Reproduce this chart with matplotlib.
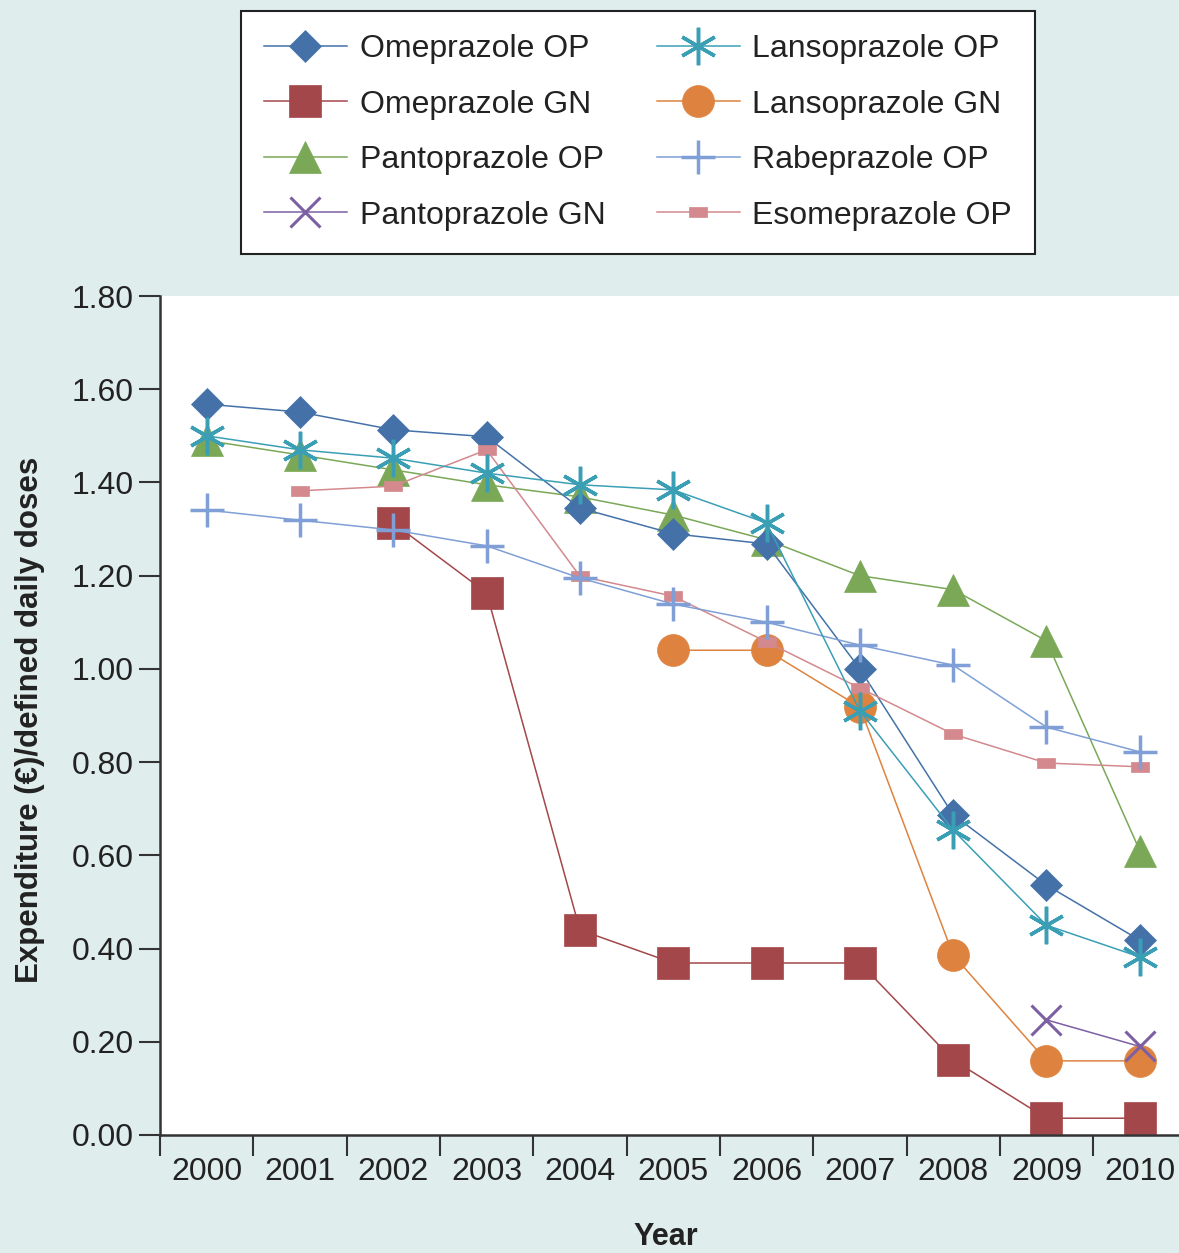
import numpy as np
import matplotlib
matplotlib.use('Agg')
import matplotlib.pyplot as plt
from matplotlib import rcParams

rcParams['font.family'] = ['Liberation Sans', 'DejaVu Sans']

nan = np.nan
years = ['2000', '2001', '2002', '2003', '2004', '2005', '2006', '2007', '2008', '2009', '2010']

omeprazole_op = [1.568, 1.551, 1.513, 1.498, 1.345, 1.290, 1.268, 1.000, 0.687, 0.536, 0.418]
omeprazole_gn = [nan, nan, 1.313, 1.163, 0.440, 0.369, 0.369, 0.369, 0.161, 0.036, 0.036]
pantoprazole_op = [1.490, 1.459, 1.427, 1.395, 1.369, 1.330, 1.277, 1.200, 1.170, 1.060, 0.610]
pantoprazole_gn = [nan, nan, nan, nan, nan, nan, nan, nan, nan, 0.247, 0.190]
lansoprazole_op = [1.500, 1.470, 1.452, 1.420, 1.395, 1.384, 1.313, 0.910, 0.654, 0.450, 0.382]
lansoprazole_gn = [nan, nan, nan, nan, nan, 1.040, 1.040, 0.918, 0.386, 0.159, 0.159]
rabeprazole_op = [1.341, 1.319, 1.298, 1.264, 1.195, 1.139, 1.100, 1.051, 1.008, 0.875, 0.822]
esomeprazole_op = [nan, 1.382, 1.392, 1.470, 1.199, 1.156, 1.058, 0.959, 0.860, 0.798, 0.790]

bg = '#dfeeec'
flat_rect = [(-1, -0.55), (1, -0.55), (1, 0.55), (-1, 0.55), (-1, -0.55)]

fig = plt.figure(figsize=(11.79, 12.53), dpi=100, facecolor=bg)
ax = fig.add_axes([160/1179, 1 - 1135/1253, 1 - 160/1179, (1135 - 296)/1253])
ax.set_facecolor('white')

x = np.arange(len(years))
lw = 1.1
# (label, data, color, marker, markersize, markeredgewidth, zorder)
series = [
    ('Omeprazole OP', omeprazole_op, '#4472a8', 'D', 16, 0.5, 4),
    ('Omeprazole GN', omeprazole_gn, '#a3474a', 's', 23, 0.5, 2),
    ('Pantoprazole OP', pantoprazole_op, '#7aa857', '^', 23, 0.5, 3),
    ('Pantoprazole GN', pantoprazole_gn, '#7d5fa3', 'x', 22, 2.2, 7),
    ('Lansoprazole OP', lansoprazole_op, '#3a9fb5', (6, 2, 0), 27, 2.5, 8),
    ('Lansoprazole GN', lansoprazole_gn, '#de833f', 'o', 23, 0.5, 5),
    ('Rabeprazole OP', rabeprazole_op, '#7f9fd6', '+', 24, 2.5, 6),
    ('Esomeprazole OP', esomeprazole_op, '#d3898d', flat_rect, 13, 0.5, 5),
]
handles = []
for label, data, color, marker, ms, mew, z in series:
    h, = ax.plot(x, data, color=color, lw=lw, marker=marker, markersize=ms,
                 markeredgewidth=mew, markeredgecolor=color, markerfacecolor=color,
                 label=label, zorder=z, clip_on=False)
    handles.append(h)

ax.set_xlim(-0.5, 10.42)
ax.set_ylim(0, 1.8)
ax.set_yticks(np.arange(0, 1.81, 0.2))
ax.set_yticklabels(['%.2f' % v for v in np.arange(0, 1.81, 0.2)])
ax.set_xticks(np.arange(-0.5, 10.5, 1.0))
ax.set_xticklabels([])
ax.set_xticks(x, minor=True)
ax.set_xticklabels(years, minor=True)
ax.tick_params(axis='x', which='major', length=15, width=1.5, color='#333333')
ax.tick_params(axis='x', which='minor', length=0, pad=16, labelsize=23, labelcolor='#222222')
ax.tick_params(axis='y', length=15, width=1.5, color='#333333', pad=4, labelsize=23, labelcolor='#222222')
for s in ['top', 'right']:
    ax.spines[s].set_visible(False)
for s in ['left', 'bottom']:
    ax.spines[s].set_linewidth(1.8)
    ax.spines[s].set_color('#333333')

fig.text(30/1179, 1 - 720/1253, 'Expenditure (€)/defined daily doses', rotation=90,
         ha='center', va='center', fontsize=22.5, fontweight='bold', color='#222222')
fig.text(666/1179, 1 - 1237/1253, 'Year', ha='center', va='center',
         fontsize=22, fontweight='bold', color='#222222')

leg = fig.legend(handles=handles, ncol=2, loc='upper center',
                 bbox_to_anchor=(638/1179, 1 - 11/1253), borderaxespad=0, fontsize=23,
                 frameon=True, fancybox=False, edgecolor='#222222', framealpha=1,
                 handlelength=2.6, handletextpad=0.4, columnspacing=1.6,
                 labelspacing=0.8, borderpad=0.72, markerscale=1.0)
leg.get_frame().set_linewidth(1.5)
for t in leg.get_texts():
    t.set_color('#222222')

plt.savefig('out.png', dpi=100, facecolor=bg)
